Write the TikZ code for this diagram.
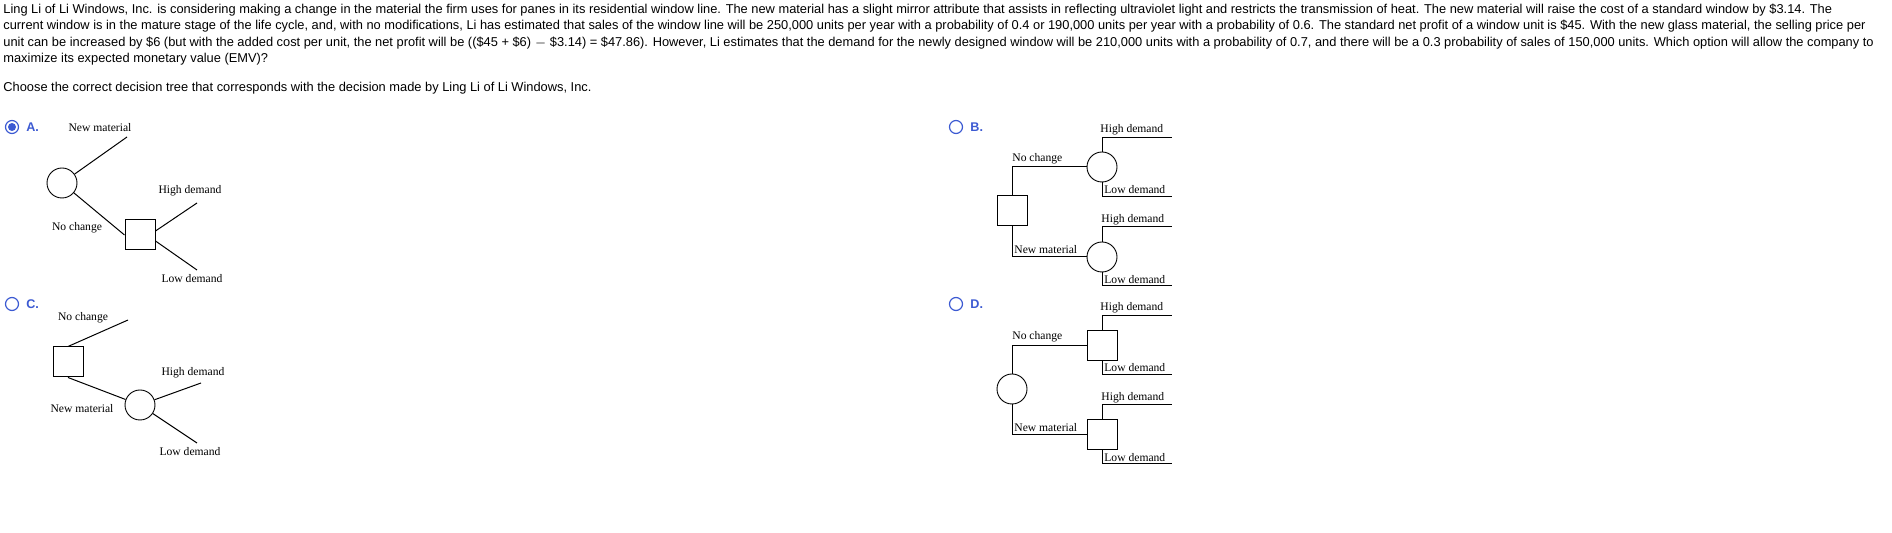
\documentclass[tikz,border=0pt]{standalone}
\usepackage{fontspec}
\setmainfont{Liberation Serif}
\newfontfamily\arial{Liberation Sans}
\definecolor{rb}{RGB}{60,90,210}
\begin{document}
\begin{tikzpicture}[x=0.5pt,y=-0.5pt,
  ln/.style={line width=0.5pt},
  chance/.style={draw,circle,minimum size=15pt,inner sep=0pt,line width=0.45pt},
  dec/.style={draw,rectangle,minimum size=15pt,inner sep=0pt,line width=0.5pt},
  lab/.style={font=\fontsize{5.8}{6}\selectfont,inner sep=0pt},
  para/.style={font=\arial\fontsize{6.42}{7}\selectfont,anchor=west,inner sep=0pt},
  radio/.style={draw=rb,circle,minimum size=6.5pt,inner sep=0pt,line width=0.6pt},
  opt/.style={font=\arial\bfseries\fontsize{6.3}{7}\selectfont,text=rb,anchor=west,inner sep=0pt}]
\useasboundingbox (0,0) rectangle (1892,533);
% paragraph
\node[para] (p1) at (3,10) {Ling Li of Li Windows, Inc. is considering making a change in the material the firm uses for panes in its residential window line. The new material has a slight mirror attribute that assists in reflecting ultraviolet light and restricts the transmission of heat. The new material will raise the cost of a standard window by \$3.14. The};
\node[para] (p2) at (3,26) {current window is in the mature stage of the life cycle, and, with no modifications, Li has estimated that sales of the window line will be 250,000 units per year with a probability of 0.4 or 190,000 units per year with a probability of 0.6. The standard net profit of a window unit is \$45. With the new glass material, the selling price per};
\node[para] (p3) at (3,43) {unit can be increased by \$6 (but with the added cost per unit, the net profit will be ((\$45 + \$6) $-$ \$3.14) = \$47.86). However, Li estimates that the demand for the newly designed window will be 210,000 units with a probability of 0.7, and there will be a 0.3 probability of sales of 150,000 units. Which option will allow the company to};
\node[para] (p4) at (3,59) {maximize its expected monetary value (EMV)?};
\node[para] (p5) at (3,88) {Choose the correct decision tree that corresponds with the decision made by Ling Li of Li Windows, Inc.};
% options
\node[radio] (rA) at (12,127) {}; \fill[rb] (rA) circle (2pt);
\node[opt] (oA) at (26,127) {A.};
\node[radio] (rB) at (956,127) {}; \node[opt] (oB) at (970,127) {B.};
\node[radio] (rC) at (12,304) {}; \node[opt] (oC) at (26,304) {C.};
\node[radio] (rD) at (956,304) {}; \node[opt] (oD) at (970,304) {D.};
% Tree A
\node[chance] (a0) at (62,183) {};
\node[dec] (a1) at (140,235) {};
\coordinate (aN) at (127,137); \coordinate (aH) at (197,203); \coordinate (aL) at (197,270);
\draw[ln] (a0) -- (aN); \draw[ln] (a0) -- (a1.west);
\draw[ln] (a1.east) ++(0,-4) coordinate (a1u) -- (aH);
\draw[ln] (a1.east) ++(0,6) coordinate (a1d) -- (aL);
\node[lab] (aNt) at (100,128) {New material};
\node[lab] (aCt) at (77,228) {No change};
\node[lab] (aHt) at (190,191) {High demand};
\node[lab] (aLt) at (192,279) {Low demand};
% Tree B
\node[dec] (b0) at (1012,211) {};
\node[chance] (b1) at (1102,167) {};
\node[chance] (b2) at (1102,257) {};
\coordinate (b1H) at (1172,138); \coordinate (b1L) at (1172,197);
\coordinate (b2H) at (1172,227); \coordinate (b2L) at (1172,286);
\draw[ln] (b0.north) |- (b1.west); \draw[ln] (b0.south) |- (b2.west);
\draw[ln] (b1.north) |- (b1H); \draw[ln] (b1.south) |- (b1L);
\draw[ln] (b2.north) |- (b2H); \draw[ln] (b2.south) |- (b2L);
\node[lab,anchor=west] (bCt) at (1012,159) {No change};
\node[lab,anchor=west] (bNt) at (1014,250) {New material};
\node[lab,anchor=west] (b1Ht) at (1100,130) {High demand};
\node[lab,anchor=west] (b1Lt) at (1104,190) {Low demand};
\node[lab,anchor=west] (b2Ht) at (1101,220) {High demand};
\node[lab,anchor=west] (b2Lt) at (1104,280) {Low demand};
% Tree C
\node[dec] (c0) at (68,362) {};
\node[chance] (c1) at (140,405) {};
\coordinate (cN) at (128,320); \coordinate (cH) at (201,383); \coordinate (cL) at (197,443);
\draw[ln] (c0.north) -- (cN); \draw[ln] (c0.south) -- (c1);
\draw[ln] (c1) -- (cH); \draw[ln] (c1) -- (cL);
\node[lab] (cCt) at (83,318) {No change};
\node[lab] (cNt) at (82,409) {New material};
\node[lab] (cHt) at (193,373) {High demand};
\node[lab] (cLt) at (190,452) {Low demand};
% Tree D
\node[chance] (d0) at (1012,389) {};
\node[dec] (d1) at (1102,346) {};
\node[dec] (d2) at (1102,435) {};
\coordinate (d1H) at (1172,316); \coordinate (d1L) at (1172,375);
\coordinate (d2H) at (1172,405); \coordinate (d2L) at (1172,464);
\draw[ln] (d0.north) |- (d1.west); \draw[ln] (d0.south) |- (d2.west);
\draw[ln] (d1.north) |- (d1H); \draw[ln] (d1.south) |- (d1L);
\draw[ln] (d2.north) |- (d2H); \draw[ln] (d2.south) |- (d2L);
\node[lab,anchor=west] (dCt) at (1012,337) {No change};
\node[lab,anchor=west] (dNt) at (1014,428) {New material};
\node[lab,anchor=west] (d1Ht) at (1100,308) {High demand};
\node[lab,anchor=west] (d1Lt) at (1104,368) {Low demand};
\node[lab,anchor=west] (d2Ht) at (1101,398) {High demand};
\node[lab,anchor=west] (d2Lt) at (1104,458) {Low demand};
\end{tikzpicture}
\end{document}
